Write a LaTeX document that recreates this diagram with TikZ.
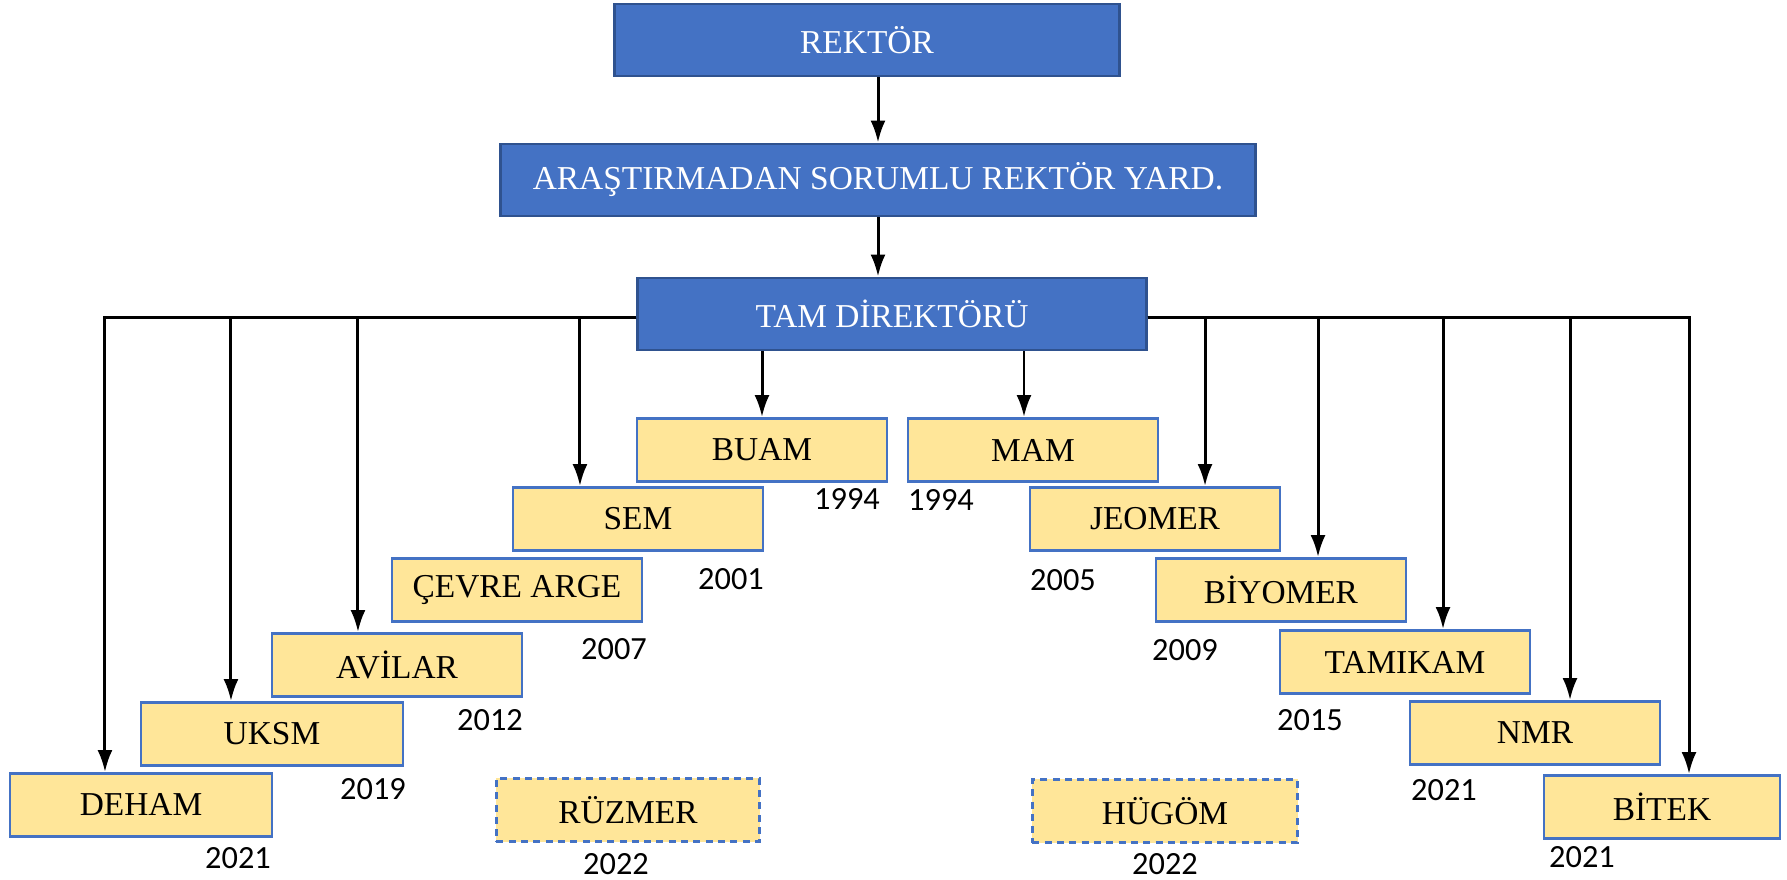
\documentclass[tikz,border=0pt]{standalone}
\usepackage{fontspec}
\setmainfont{Liberation Serif}
\newfontfamily\yilfont{Carlito}
\usetikzlibrary{arrows.meta}

\definecolor{mavi}{HTML}{4472C4}
\definecolor{koyumavi}{HTML}{2F528F}
\definecolor{sari}{HTML}{FFE699}

\tikzset{
	ust/.style={draw=koyumavi, fill=mavi, text=white, line width=0.8pt, minimum height=0.72cm, font=\fontsize{9.5}{11}\selectfont},
	birim/.style={draw=mavi, fill=sari, line width=0.8pt, minimum width=2.5cm, minimum height=0.63cm, font=\fontsize{9.5}{11}\selectfont},
	yeni/.style={birim, dash pattern=on 2pt off 1.5pt},
	yil/.style={inner sep=0pt, font=\yilfont\fontsize{9.2}{11}\selectfont},
	ok/.style={-{Latex[length=2.2mm,width=1.5mm]}, line width=0.85pt},
}

\begin{document}
\begin{tikzpicture}[x=0.01cm,y=-0.01cm]
		\useasboundingbox (0,0) rectangle (1787,880);

		% yonetim
		\node[ust, minimum width=5.05cm] (rektor) at (867,40) {REKTÖR};
		\node[ust, minimum width=7.55cm] (arastirma) at (878,180) {ARAŞTIRMADAN SORUMLU REKTÖR YARD.};
		\node[ust, minimum width=5.08cm] (tam) at (892,314) {TAM DİREKTÖRÜ};

		% sol merkezler
		\node[birim] (buam) at (762,450) {BUAM};
		\node[birim] (sem) at (638,519) {SEM};
		\node[birim] (cevre) at (517,590) {ÇEVRE ARGE};
		\node[birim] (avilar) at (397,665) {AVİLAR};
		\node[birim, minimum width=2.62cm] (uksm) at (272,734) {UKSM};
		\node[birim, minimum width=2.62cm] (deham) at (141,805) {DEHAM};
		\node[yeni, minimum width=2.63cm] (ruzmer) at (628,810) {RÜZMER};

		% sag merkezler
		\node[birim] (mam) at (1033,450) {MAM};
		\node[birim] (jeomer) at (1155,519) {JEOMER};
		\node[birim] (biyomer) at (1281,590) {BİYOMER};
		\node[birim] (tamikam) at (1405,662) {TAMIKAM};
		\node[birim] (nmr) at (1535,733) {NMR};
		\node[birim, minimum width=2.36cm] (bitek) at (1662,807) {BİTEK};
		\node[yeni, minimum width=2.65cm] (hugom) at (1165,811) {HÜGÖM};

		% kurulus yillari
		\node[yil] (ybuam) at (847,499) {1994};
		\node[yil] (ysem) at (731,579) {2001};
		\node[yil] (ycevre) at (614,649) {2007};
		\node[yil] (yavilar) at (490,720) {2012};
		\node[yil] (yuksm) at (373,789) {2019};
		\node[yil] (ydeham) at (238,858) {2021};
		\node[yil] (yruzmer) at (616,864) {2022};
		\node[yil] (ymam) at (941,500) {1994};
		\node[yil] (yjeomer) at (1063,580) {2005};
		\node[yil] (ybiyomer) at (1185,650) {2009};
		\node[yil] (ytamikam) at (1310,720) {2015};
		\node[yil] (ynmr) at (1444,790) {2021};
		\node[yil] (ybitek) at (1582,857) {2021};
		\node[yil] (yhugom) at (1165,864) {2022};

		% baglantilar
		\draw[ok] (rektor.south -| arastirma.north) -- (arastirma.north);
		\draw[ok] (arastirma.south) -- (tam.north -| arastirma.south);
		\draw[ok] (tam.south -| buam.north) -- (buam.north);
		\draw[ok] ([xshift=-0.09cm]tam.south -| mam.north) -- ([xshift=-0.09cm]mam.north);

		\draw[ok] ([yshift=-0.04cm]tam.west) -| ([xshift=-0.36cm]deham.north);
		\draw[ok] ([yshift=-0.04cm]tam.west) -| ([xshift=-0.41cm]uksm.north);
		\draw[ok] ([yshift=-0.04cm]tam.west) -| ([xshift=-0.39cm]avilar.north);
		\draw[ok] ([yshift=-0.04cm]tam.west) -| ([xshift=-0.58cm]sem.north);

		\draw[ok] ([yshift=-0.04cm]tam.east) -| ([xshift=0.5cm]jeomer.north);
		\draw[ok] ([yshift=-0.04cm]tam.east) -| ([xshift=0.37cm]biyomer.north);
		\draw[ok] ([yshift=-0.04cm]tam.east) -| ([xshift=0.38cm]tamikam.north);
		\draw[ok] ([yshift=-0.04cm]tam.east) -| ([xshift=0.35cm]nmr.north);
		\draw[ok] ([yshift=-0.04cm]tam.east) -| ([xshift=0.27cm]bitek.north);

		\end{tikzpicture}
\end{document}
